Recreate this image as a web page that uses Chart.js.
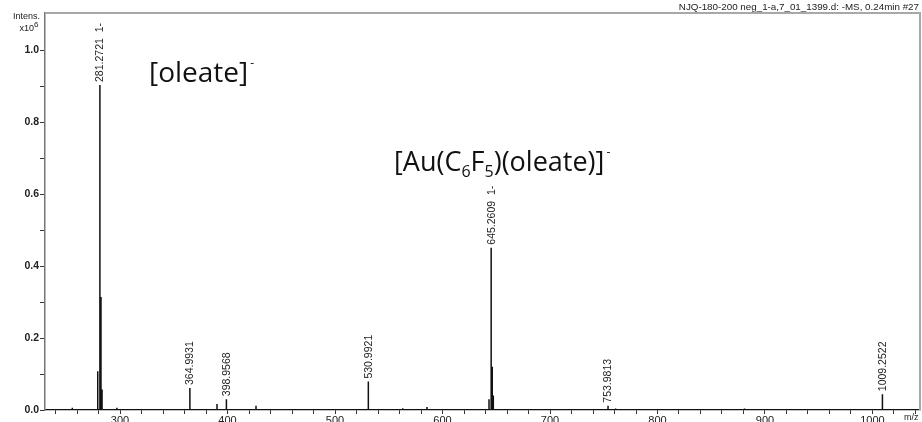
<!DOCTYPE html>
<html>
<head>
<meta charset="utf-8">
<script src="https://cdn.jsdelivr.net/npm/chart.js@4.4.1/dist/chart.umd.min.js"></script>
<style>
  html, body { margin: 0; padding: 0; background: #fff; }
  #wrap { width: 922px; height: 422px; position: relative; }
</style>
</head>
<body>
<div id="wrap"><canvas id="ms"></canvas></div>
<script>
// Negative-mode ESI mass spectrum, intensities in units of 10^6
const mzValues = [255.6, 279.26, 281.2721, 282.27, 283.27, 297.1, 364.9931, 390.2, 398.9568, 426.5,
                  530.9921, 563.0, 585.6, 643.26, 645.2609, 646.26, 647.26, 753.9813, 761.0, 881.0, 1009.2522];
const intensities = [0.006, 0.108, 0.903, 0.314, 0.057, 0.006, 0.061, 0.017, 0.030, 0.012,
                     0.079, 0.005, 0.008, 0.030, 0.451, 0.120, 0.040, 0.012, 0.004, 0.004, 0.044];
// annotated peaks: m/z and the text printed above each
const labelledMz = [281.2721, 364.9931, 398.9568, 530.9921, 645.2609, 753.9813, 1009.2522];
const peakLabels = ['281.2721  1-', '364.9931', '398.9568', '530.9921', '645.2609  1-', '753.9813', '1009.2522'];

const xRange = [230.2, 1044.2];
const yRange = [0, 1.103];
const yTickLabels = ['0.0', '0.2', '0.4', '0.6', '0.8', '1.0'];
const headerText = 'NJQ-180-200 neg_1-a,7_01_1399.d: -MS, 0.24min #27';

// stick profile: each peak rises from the baseline and returns to it
const profile = [];
mzValues.forEach((mz, i) => {
  profile.push({ x: mz, y: 0 }, { x: mz, y: intensities[i] }, { x: mz, y: 0 });
});

const near = (v, step) => Math.abs(v / step - Math.round(v / step)) < 1e-6;

const decorations = {
  id: 'decorations',
  afterDatasetsDraw(chart) {
    const { ctx, chartArea: a, scales: { x, y } } = chart;
    ctx.save();
    // frame on top and right
    ctx.strokeStyle = '#a8a8a8';
    ctx.lineWidth = 2;
    ctx.beginPath();
    ctx.moveTo(a.left, a.top);
    ctx.lineTo(a.right, a.top);
    ctx.lineTo(a.right, a.bottom);
    ctx.stroke();

    // peak labels, rotated, sitting above each peak
    ctx.fillStyle = '#222';
    ctx.font = '10.5px "Liberation Sans", Arial, sans-serif';
    ctx.textAlign = 'left';
    ctx.textBaseline = 'middle';
    labelledMz.forEach((mz, i) => {
      const idx = mzValues.indexOf(mz);
      const px = x.getPixelForValue(mz);
      const py = y.getPixelForValue(intensities[idx]);
      ctx.save();
      ctx.translate(px + 0.5, py - 3);
      ctx.rotate(-Math.PI / 2);
      ctx.fillText(peakLabels[i], 0, 0);
      ctx.restore();
    });

    // header
    ctx.font = '9.8px "Liberation Sans", Arial, sans-serif';
    ctx.textAlign = 'right';
    ctx.textBaseline = 'middle';
    ctx.fillStyle = '#222';
    ctx.fillText(headerText, 919, 7);

    // y-axis title
    ctx.font = '9px "Liberation Sans", Arial, sans-serif';
    ctx.textAlign = 'right';
    ctx.fillText('Intens.', 40, 17);
    ctx.fillText('x10', 34, 29);
    ctx.font = '8px "Liberation Sans", Arial, sans-serif';
    ctx.textAlign = 'left';
    ctx.fillText('6', 34, 25);

    // x-axis title
    ctx.font = '9px "Liberation Sans", Arial, sans-serif';
    ctx.textAlign = 'left';
    ctx.fillText('m/z', 904, 418);

    // ion assignments
    ctx.fillStyle = '#111';
    ctx.textBaseline = 'alphabetic';
    ctx.font = '28px "Open Sans", sans-serif';
    ctx.fillText('[oleate]', 149, 82);
    let w = ctx.measureText('[oleate]').width;
    ctx.font = '12px "Open Sans", sans-serif';
    ctx.fillText('-', 149 + w + 2, 67);

    let cx = 394;
    const parts = [['[Au(C', 0], ['6', 1], ['F', 0], ['5', 1], [')(oleate)]', 0], ['-', 2]];
    parts.forEach(([t, kind]) => {
      if (kind === 0) { ctx.font = '27px "Open Sans", sans-serif'; ctx.fillText(t, cx, 171); }
      else if (kind === 1) { ctx.font = '16px "Open Sans", sans-serif'; ctx.fillText(t, cx, 177); }
      else { ctx.font = '12px "Open Sans", sans-serif'; ctx.fillText(t, cx + 2, 156); }
      cx += ctx.measureText(t).width;
    });
    ctx.restore();
  }
};

new Chart(document.getElementById('ms'), {
  type: 'line',
  data: {
    datasets: [{
      data: profile,
      borderColor: '#111',
      borderWidth: 1.5,
      pointRadius: 0,
      tension: 0,
      fill: false
    }]
  },
  options: {
    responsive: true,
    maintainAspectRatio: false,
    animation: false,
    layout: { padding: { top: 13, right: 2, left: 0, bottom: 0 } },
    plugins: { legend: { display: false }, tooltip: { enabled: false } },
    scales: {
      x: {
        type: 'linear',
        min: xRange[0],
        max: xRange[1],
        afterBuildTicks(s) {
          const t = [];
          for (let v = Math.ceil(xRange[0] / 20) * 20; v <= xRange[1]; v += 20) t.push({ value: v });
          s.ticks = t;
        },
        afterFit(s) { s.height = 12; },
        grid: { drawOnChartArea: false, tickLength: 4, color: '#333', tickColor: '#333' },
        border: { color: '#111', width: 1.3 },
        ticks: {
          autoSkip: false,
          maxRotation: 0,
          padding: 0,
          color: '#222',
          font: { family: '"Liberation Sans", Arial, sans-serif', size: 11 },
          callback: v => near(v, 100) ? String(v) : ''
        }
      },
      y: {
        type: 'linear',
        min: yRange[0],
        max: yRange[1],
        afterBuildTicks(s) {
          const t = [];
          for (let k = 0; k <= 10; k++) t.push({ value: k / 10 });
          s.ticks = t;
        },
        afterFit(s) { s.width = 45; },
        grid: { drawOnChartArea: false, tickLength: 5, color: '#333', tickColor: '#333' },
        border: { color: '#777', width: 1.5 },
        ticks: {
          autoSkip: false,
          padding: 1,
          color: '#222',
          font: { family: '"Liberation Sans", Arial, sans-serif', size: 10.5, weight: 'bold' },
          callback: (v) => {
            const k = Math.round(v * 10);
            return k % 2 === 0 ? yTickLabels[k / 2] : '';
          }
        }
      }
    }
  },
  plugins: [decorations]
});
</script>
</body>
</html>
